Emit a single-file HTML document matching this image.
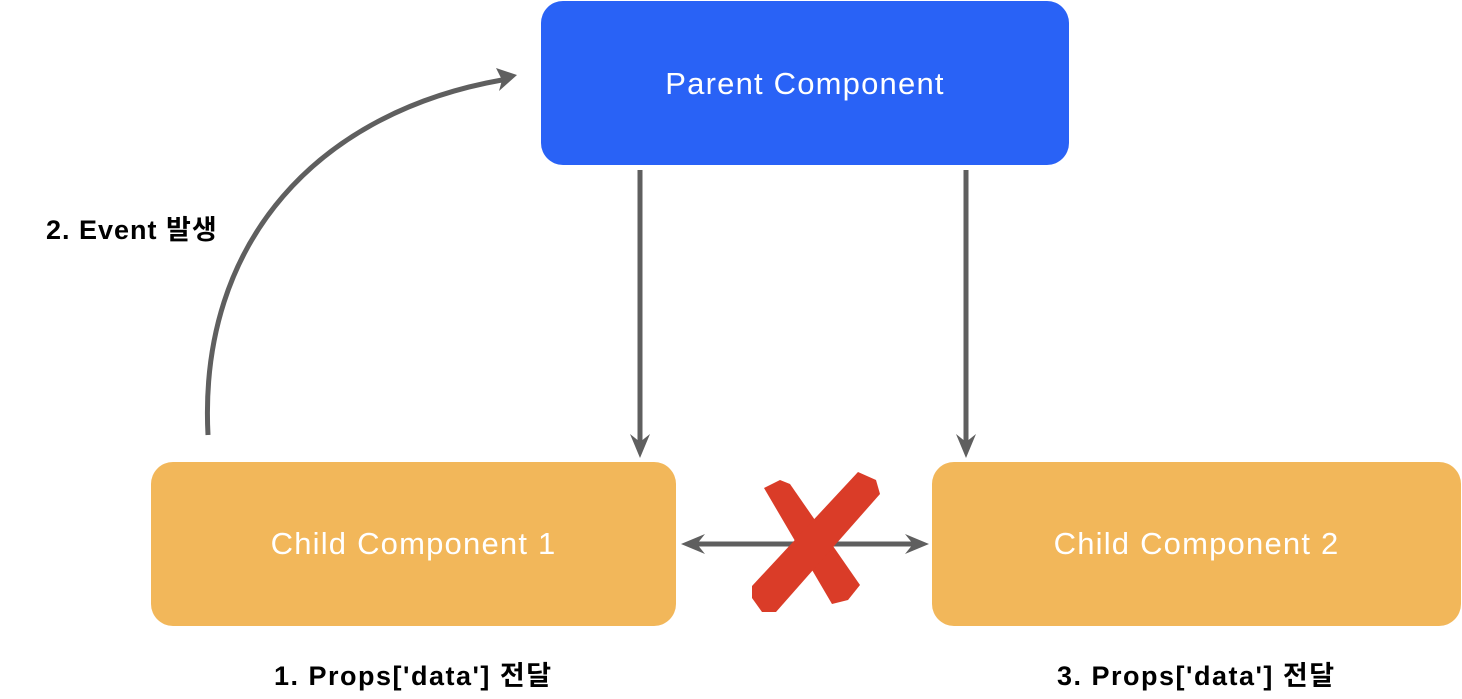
<!DOCTYPE html>
<html><head><meta charset="utf-8"><style>
body{margin:0;width:1462px;height:699px;background:#fff;overflow:hidden;position:relative;font-family:"Liberation Sans","Noto Sans CJK KR",sans-serif}
.box{position:absolute;border-radius:22px;color:#fff;font-size:31px;letter-spacing:1.2px;display:flex;align-items:center;justify-content:center}
.lbl{position:absolute;font-weight:bold;font-size:27px;color:#000;white-space:nowrap}
</style></head><body>
<div class="box" style="left:541px;top:1px;width:528px;height:164px;background:#2962F6;padding-top:2px;box-sizing:border-box">Parent Component</div>
<div class="box" style="left:151px;top:462px;width:525px;height:164px;background:#F2B75A">Child Component 1</div>
<div class="box" style="left:932px;top:462px;width:529px;height:164px;background:#F2B75A">Child Component 2</div>
<svg width="1462" height="699" style="position:absolute;left:0;top:0">
<g stroke="#5f5f5f" stroke-width="5" fill="none">
<path d="M208,435 C198,240 320,112 502,80"/>
<line x1="640" y1="170" x2="640" y2="445"/>
<line x1="966" y1="170" x2="966" y2="445"/>
<line x1="692" y1="544" x2="918" y2="544"/>
</g>
<g fill="#5f5f5f">
<polygon points="517,75 496,68 502,80 499,91"/>
<polygon points="640,458 630,434 640,442 650,434"/>
<polygon points="966,458 956,434 966,442 976,434"/>
<polygon points="681,544 705,534 697,544 705,554"/>
<polygon points="929,544 905,534 913,544 905,554"/>
</g>
<g fill="#DA3C28">
<polygon points="764,488 780,480 790,484 860,585 848,600 832,604"/>
<polygon points="858,472 876,480 880,494 776,612 762,612 752,598 752,586"/>
</g>
</svg>
<div class="lbl" style="left:46px;top:208px;letter-spacing:1px">2. Event 발생</div>
<div class="lbl" style="left:274px;top:654px;letter-spacing:1.5px">1. Props['data'] 전달</div>
<div class="lbl" style="left:1057px;top:654px;letter-spacing:1.5px">3. Props['data'] 전달</div>
</body></html>
